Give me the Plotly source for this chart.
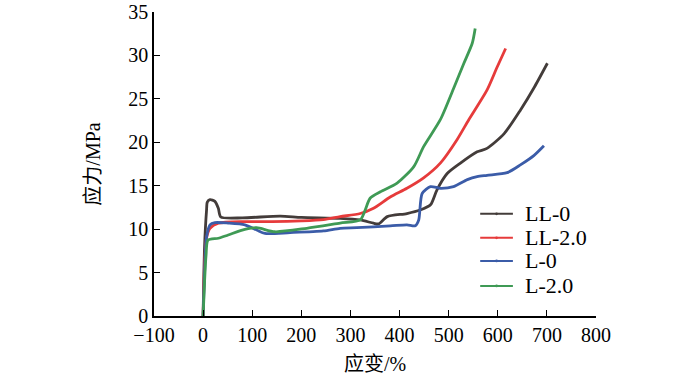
import plotly.graph_objects as go

# Data (strain %, stress MPa)
ll0_x = [0, 3, 7, 8.5, 14, 24, 31, 36, 80, 157, 200, 279, 320, 347, 357, 375, 415, 442, 463, 476, 497, 524, 558, 578, 613, 646, 675, 701]
ll0_y = [0, 8, 12.2, 13.1, 13.4, 13.2, 12.4, 11.4, 11.3, 11.5, 11.35, 11.25, 11.06, 10.68, 10.6, 11.44, 11.8, 12.2, 12.8, 14.5, 16.4, 17.6, 18.9, 19.3, 21.0, 23.7, 26.4, 29.1]

ll2_x = [0, 3, 7, 14, 31, 85, 140, 200, 245, 279, 320, 347, 381, 415, 449, 483, 517, 541, 578, 599, 616]
ll2_y = [0, 6, 9, 10.1, 10.68, 10.86, 10.86, 10.95, 11.1, 11.44, 11.8, 12.4, 13.7, 14.7, 15.9, 17.6, 20.3, 22.6, 26.0, 28.7, 30.8]

l0_x = [0, 3, 7, 14, 24, 51, 85, 109, 126, 177, 245, 279, 313, 381, 415, 432, 439, 446, 463, 483, 510, 538, 558, 578, 619, 646, 674, 694]
l0_y = [0, 5, 9.1, 10.5, 10.75, 10.7, 10.5, 9.9, 9.5, 9.6, 9.8, 10.1, 10.17, 10.37, 10.5, 10.4, 11.06, 14.1, 14.9, 14.7, 14.9, 15.7, 16.05, 16.2, 16.5, 17.4, 18.5, 19.6]

l2_x = [0, 3, 6, 10, 31, 51, 85, 109, 146, 211, 279, 320, 330, 340, 361, 395, 429, 449, 483, 510, 531, 548, 554]
l2_y = [0, 4, 7, 8.75, 8.95, 9.33, 9.98, 10.17, 9.7, 10.1, 10.7, 11.06, 12.2, 13.56, 14.3, 15.3, 17.2, 19.5, 22.6, 26.2, 29.1, 31.4, 33.1]

names = ["LL-0", "LL-2.0", "L-0", "L-2.0"]
colors = ["#433c3a", "#e63b3b", "#3b5ca8", "#3f9a55"]
series = [(ll0_x, ll0_y), (ll2_x, ll2_y), (l0_x, l0_y), (l2_x, l2_y)]

x_ticks = [-100, 0, 100, 200, 300, 400, 500, 600, 700, 800]
y_ticks = [0, 5, 10, 15, 20, 25, 30, 35]

font_family = "Liberation Serif, Times New Roman, Noto Sans CJK SC, serif"

fig = go.Figure()
for (xs, ys), n, c in zip(series, names, colors):
    fig.add_trace(go.Scatter(
        x=xs, y=ys, name=n, mode="lines",
        line=dict(color=c, width=2.8, shape="spline", smoothing=0.7),
        showlegend=False, hoverinfo="skip",
    ))

# Hand-placed legend (paper coordinates) to match the compact row spacing
leg_x0, leg_x1, leg_tx = 0.738, 0.812, 0.835
leg_rows = [0.336, 0.257, 0.181, 0.099]
for n, c, ry in zip(names, colors, leg_rows):
    fig.add_shape(type="line", xref="paper", yref="paper", x0=leg_x0, x1=leg_x1, y0=ry, y1=ry,
                  line=dict(color=c, width=2))
    fig.add_shape(type="circle", xref="paper", yref="paper",
                  x0=(leg_x0 + leg_x1) / 2 - 0.003, x1=(leg_x0 + leg_x1) / 2 + 0.003,
                  y0=ry - 0.0045, y1=ry + 0.0045, fillcolor=c, line=dict(color=c, width=0))
    fig.add_annotation(text=n, xref="paper", yref="paper", x=leg_tx, y=ry, xanchor="left",
                       yanchor="middle", showarrow=False, font=dict(size=22, family=font_family))

fig.update_layout(
    width=700, height=380,
    margin=dict(l=154, r=104, t=12, b=64),
    paper_bgcolor="white", plot_bgcolor="white",
    font=dict(family=font_family, size=20, color="black"),
    showlegend=False,
)
fig.update_xaxes(
    range=[-100, 800], tickvals=x_ticks, ticktext=[str(v).replace("-", "−") for v in x_ticks],
    showgrid=False, zeroline=False, showline=True, linecolor="black", linewidth=1.5,
    ticks="inside", ticklen=6, tickwidth=1.2, tickcolor="black", automargin=False,
    title=dict(text="应变/%", standoff=12, font=dict(size=20)),
)
fig.update_yaxes(
    range=[0, 35], tickvals=y_ticks,
    showgrid=False, zeroline=False, showline=True, linecolor="black", linewidth=1.5,
    ticks="inside", ticklen=6, tickwidth=1.2, tickcolor="black", automargin=False,
    ticklabeloverflow="allow",
    title=dict(text="应力/MPa", standoff=22, font=dict(size=20)),
)

# remove the browser's default 8px body margin so the figure sits at the page origin
fig.write_html("out.html", config={"displayModeBar": False},
               post_script="document.body.style.margin='0';")
